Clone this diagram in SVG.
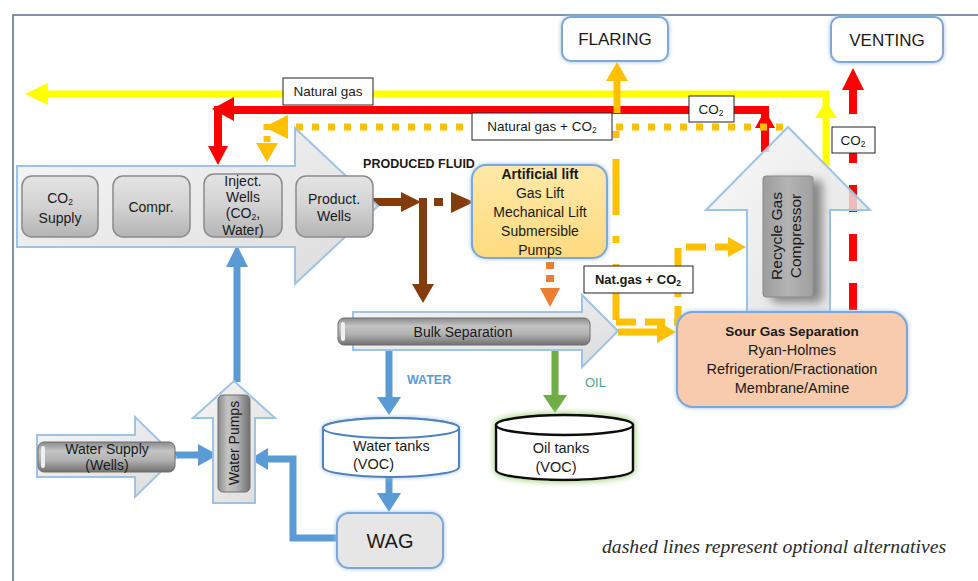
<svg xmlns="http://www.w3.org/2000/svg" width="978" height="581" viewBox="0 0 978 581">
<style>
text{font-family:"Liberation Sans",Arial,sans-serif;fill:#1a1a1a}
.t13{font-size:13.5px}
.t14{font-size:14px}
.t145{font-size:14.5px}
.c{text-anchor:middle}
.b{font-weight:bold}
.sub{font-size:8.5px}
.lbl{fill:#fff;stroke:#222;stroke-width:1}
.btn{fill:url(#gBtn);stroke:#8a8a8a;stroke-width:1.5}
.bigarrow{fill:url(#gArrow);stroke:#9DC3E6;stroke-width:2}
.rbox{stroke:#7EA6D8;stroke-width:2}
.y{stroke:#FFFF00;fill:none;stroke-width:7}
.r{stroke:#FF0000;fill:none;stroke-width:8}
.g{stroke:#FFC000;fill:none;stroke-width:7}
.br{stroke:#843C0C;fill:none;stroke-width:8}
.bl{stroke:#5B9BD5;fill:none;stroke-width:7}
.gr{stroke:#70AD47;fill:none;stroke-width:7}
</style>
<defs>
<linearGradient id="gBtn" x1="0" y1="0" x2="0" y2="1">
<stop offset="0" stop-color="#e4e4e4"/><stop offset="0.5" stop-color="#d2d2d2"/><stop offset="1" stop-color="#b4b4b4"/>
</linearGradient>
<linearGradient id="gArrow" x1="0" y1="0" x2="1" y2="1">
<stop offset="0" stop-color="#f7f7f7"/><stop offset="1" stop-color="#dcdcdc"/>
</linearGradient>
<linearGradient id="gBarH" x1="0" y1="0" x2="0" y2="1">
<stop offset="0" stop-color="#8a8a8a"/><stop offset="0.3" stop-color="#c4c4c4"/><stop offset="0.6" stop-color="#b2b2b2"/><stop offset="1" stop-color="#707070"/>
</linearGradient>
<linearGradient id="gBarV" x1="0" y1="0" x2="1" y2="0">
<stop offset="0" stop-color="#8a8a8a"/><stop offset="0.3" stop-color="#c4c4c4"/><stop offset="0.6" stop-color="#b2b2b2"/><stop offset="1" stop-color="#707070"/>
</linearGradient>
<linearGradient id="gComp" x1="0" y1="0" x2="1" y2="0">
<stop offset="0" stop-color="#9c9c9c"/><stop offset="0.5" stop-color="#b4b4b4"/><stop offset="1" stop-color="#a0a0a0"/>
</linearGradient>
<linearGradient id="gLift" x1="0" y1="0" x2="0" y2="1">
<stop offset="0" stop-color="#FFE9A8"/><stop offset="1" stop-color="#FFDA80"/>
</linearGradient>
<filter id="glow" x="-10%" y="-20%" width="120%" height="140%">
<feGaussianBlur in="SourceAlpha" stdDeviation="2" result="b"/>
<feFlood flood-color="#9DC3E6"/>
<feComposite in2="b" operator="in"/>
<feMerge><feMergeNode/><feMergeNode in="SourceGraphic"/></feMerge>
</filter>
<filter id="glowG" x="-10%" y="-20%" width="120%" height="140%">
<feGaussianBlur in="SourceAlpha" stdDeviation="3" result="b"/>
<feFlood flood-color="#B5DC98"/>
<feComposite in2="b" operator="in"/>
<feMerge><feMergeNode/><feMergeNode/><feMergeNode in="SourceGraphic"/></feMerge>
</filter>
<filter id="shadow" x="-30%" y="-10%" width="180%" height="130%">
<feDropShadow dx="9" dy="5" stdDeviation="5" flood-color="#444" flood-opacity="0.6"/>
</filter>
</defs>
<rect width="978" height="581" fill="#fff"/>
<path d="M13,581 V15 H978" fill="none" stroke="#4F7391" stroke-width="1.5"/>

<g id="connectors">
<path class="y" d="M826,166 V94 H44"/>
<polygon fill="#FFFF00" points="48,83 25,94 48,105"/>
<polygon fill="#FFFF00" points="815,118 826,101 837,118"/>
<path class="r" d="M765,152 V110 H218 V148"/>
<polygon fill="#FF0000" points="208,146 228,146 218,165"/>
<polygon fill="#FF0000" points="755,128 765,110 775,128"/>
<polygon fill="#FF0000" points="234,97 212,109 234,121"/>
<path class="g" d="M783,127 H290" stroke-dasharray="7 9"/>
<path class="g" d="M267,124 V143" stroke-dasharray="6 6"/>
<polygon fill="#FFC000" points="288,115 264,127 288,139"/>
<polygon fill="#FFC000" points="256,143 278,143 267,162"/>
<path class="g" d="M617,113 V78"/>
<polygon fill="#FFC000" points="606,81 628,81 617,62"/>
<path class="r" d="M853,310 V88" stroke-dasharray="27 22"/>
<polygon fill="#FF0000" points="842,90 864,90 853,68"/>
<path class="g" d="M616,320 V128" stroke-dasharray="56 21 7 21"/>
<path class="g" d="M616,322 H678 V247 H730" stroke-dasharray="20 9"/>
<polygon fill="#FFC000" points="728,237 746,247 728,257"/>
<path class="g" d="M618,332 H660"/>
<polygon fill="#FFC000" points="657,321 676,332 657,343"/>
<path class="br" d="M373,202 H404"/>
<polygon fill="#843C0C" points="401,192 421,202 401,212"/>
<path class="br" d="M423,198 V286"/>
<polygon fill="#843C0C" points="412,284 434,284 423,303"/>
<rect x="434" y="198" width="9" height="8" fill="#843C0C"/>
<polygon fill="#843C0C" points="451,192 474,202 451,213"/>
<rect x="546" y="262" width="8" height="7" fill="#ED7D31"/>
<rect x="546" y="275" width="8" height="7" fill="#ED7D31"/>
<polygon fill="#ED7D31" points="540,288 560,288 550,307"/>
<path class="bl" d="M389,345 V399"/>
<polygon fill="#5B9BD5" points="377,397 401,397 389,415"/>
<path class="bl" d="M389,477 V495"/>
<polygon fill="#5B9BD5" points="377,493 401,493 389,512"/>
<path class="bl" d="M337,538 H293 V459 H266"/>
<polygon fill="#5B9BD5" points="268,448 268,470 250,459"/>
<path class="bl" d="M175,455 H200"/>
<polygon fill="#5B9BD5" points="198,444 198,466 218,455"/>
<path class="bl" d="M237,382 V265"/>
<polygon fill="#5B9BD5" points="226,267 248,267 237,245"/>
<path class="gr" d="M555,345 V397"/>
<polygon fill="#70AD47" points="543,395 567,395 555,413"/>
</g>

<g id="wells-arrow">
<polygon class="bigarrow" points="17,166 295,166 295,128 378,206 295,284 295,247 17,247"/>
</g>
<g id="co2-supply">
<rect class="btn" x="22" y="176" width="76" height="61" rx="10"/>
<text class="t14 c" x="60" y="203">CO<tspan class="sub" dy="2">2</tspan></text>
<text class="t14 c" x="60" y="223">Supply</text>
</g>
<g id="compr">
<rect class="btn" x="113" y="176" width="77" height="61" rx="10"/>
<text class="t14 c" x="151" y="212">Compr.</text>
</g>
<g id="inject-wells">
<rect class="btn" x="204" y="174" width="78" height="63" rx="10"/>
<text class="t14 c" x="243" y="186">Inject.</text>
<text class="t14 c" x="243" y="202">Wells</text>
<text class="t14 c" x="243" y="218">(CO<tspan class="sub" dy="1.5">2</tspan><tspan dy="-1.5">,</tspan></text>
<text class="t14 c" x="243" y="235">Water)</text>
</g>
<g id="product-wells">
<rect class="btn" x="296" y="176" width="77" height="61" rx="10"/>
<text class="t14 c" x="334" y="204">Product.</text>
<text class="t14 c" x="334" y="221">Wells</text>
</g>
<text class="b c" x="419" y="168" font-size="12.5">PRODUCED FLUID</text>

<g id="artificial-lift">
<rect class="rbox" x="472" y="165" width="135" height="93" rx="14" fill="url(#gLift)" filter="url(#glow)"/>
<text class="t14 c b" x="540" y="179">Artificial lift</text>
<text class="t14 c" x="540" y="198">Gas Lift</text>
<text class="t14 c" x="540" y="217">Mechanical Lift</text>
<text class="t14 c" x="540" y="236">Submersible</text>
<text class="t14 c" x="540" y="255">Pumps</text>
</g>

<g id="bulk-separation">
<polygon class="bigarrow" points="353,312 582,312 582,295 618,331 582,367 582,350 353,350"/>
<rect x="338" y="318" width="252" height="27" rx="6" fill="url(#gBarH)" stroke="#6e6e6e" stroke-width="1"/>
<rect x="341" y="322" width="4" height="19" rx="2" fill="#f0f0f0"/>
<text class="t14 c" x="463" y="337">Bulk Separation</text>
</g>
<text class="b" x="407" y="384" font-size="12.5" style="fill:#5B9BD5">WATER</text>
<text x="585" y="387" font-size="13" style="fill:#4FA67E">OIL</text>

<g id="water-tanks">
<g filter="url(#glow)">
<path d="M323,428 A68,10 0 0,1 459,428 V467 A68,10 0 0,1 323,467 Z" fill="#fff" stroke="#4F81BD" stroke-width="2"/>
<ellipse cx="391" cy="428" rx="68" ry="10" fill="#fff" stroke="#4F81BD" stroke-width="2"/>
</g>
<text class="t145" x="353" y="451">Water tanks</text>
<text class="t145" x="353" y="469">(VOC)</text>
</g>

<g id="oil-tanks">
<g filter="url(#glowG)">
<path d="M496,425 A68.5,10 0 0,1 633,425 V470 A68.5,10 0 0,1 496,470 Z" fill="#fff" stroke="#111" stroke-width="2.5"/>
<ellipse cx="564.5" cy="425" rx="68.5" ry="10" fill="#fff" stroke="#111" stroke-width="2.5"/>
</g>
<text class="t145 c" x="561" y="453">Oil tanks</text>
<text class="t145 c" x="556" y="472">(VOC)</text>
</g>

<g id="wag">
<rect class="rbox" x="337" y="513" width="106" height="55" rx="12" fill="#E7E6E6" filter="url(#glow)"/>
<text class="c" x="390" y="548" font-size="20">WAG</text>
</g>

<g id="water-supply">
<polygon class="bigarrow" points="37,435 135,435 135,417 176,457 135,497 135,477 37,477"/>
<rect x="38" y="442" width="137" height="30" rx="6" fill="url(#gBarH)" stroke="#6e6e6e" stroke-width="1"/>
<rect x="41" y="446" width="4" height="22" rx="2" fill="#f0f0f0"/>
<text class="t14 c" x="107" y="454">Water Supply</text>
<text class="t14 c" x="107" y="470">(Wells)</text>
</g>

<g id="water-pumps">
<polygon class="bigarrow" points="213,503 213,418 193,418 234,381 275,418 255,418 255,503"/>
<rect x="218" y="395" width="32" height="97" rx="5" fill="url(#gBarV)" stroke="#6e6e6e" stroke-width="1"/>
<text class="t14 c" transform="translate(239,443) rotate(-90)">Water Pumps</text>
</g>

<g id="recycle-compressor">
<polygon class="bigarrow" points="747,313 747,210 706,210 788,127 870,210 830,210 830,313" fill-opacity="0.82"/>
<rect x="763" y="176" width="50" height="121" rx="3" fill="url(#gComp)" stroke="#888" stroke-width="1" filter="url(#shadow)"/>
<text class="c" font-size="15.5" transform="translate(782,236) rotate(-90)">Recycle Gas</text>
<text class="c" font-size="15.5" transform="translate(801,236) rotate(-90)">Compressor</text>
</g>

<g id="sour-gas">
<rect class="rbox" x="677" y="312" width="230" height="95" rx="16" fill="#F8CBAD" filter="url(#glow)"/>
<text class="c b" x="792" y="336" font-size="13.5">Sour Gas Separation</text>
<text class="t145 c" x="792" y="355">Ryan-Holmes</text>
<text class="t145 c" x="792" y="374">Refrigeration/Fractionation</text>
<text class="t145 c" x="792" y="393">Membrane/Amine</text>
</g>

<g id="flaring">
<rect class="rbox" x="562" y="17" width="106" height="44" rx="9" fill="#fff" filter="url(#glow)"/>
<text class="c" x="615" y="45" font-size="17">FLARING</text>
</g>
<g id="venting">
<rect class="rbox" x="831" y="17" width="112" height="45" rx="9" fill="#fff" filter="url(#glow)"/>
<text class="c" x="887" y="46" font-size="17">VENTING</text>
</g>

<g id="labels">
<rect class="lbl" x="283" y="78" width="90" height="27"/>
<text class="t13 c" x="328" y="96">Natural gas</text>
<rect class="lbl" x="472" y="113" width="140" height="27"/>
<text class="t13 c" x="542" y="131">Natural gas + CO<tspan class="sub" dy="2">2</tspan></text>
<rect class="lbl" x="689" y="96" width="45" height="26"/>
<text class="t13 c" x="711" y="114">CO<tspan class="sub" dy="2">2</tspan></text>
<rect class="lbl" x="832" y="127" width="43" height="26"/>
<text class="t13 c" x="853" y="145">CO<tspan class="sub" dy="2">2</tspan></text>
<rect class="lbl" x="584" y="266" width="109" height="27"/>
<text class="b c" x="638" y="284" font-size="13">Nat.gas + CO<tspan class="sub" dy="2">2</tspan></text>
</g>

<text x="602" y="553" font-size="19.7" font-style="italic" style="font-family:'Liberation Serif','Times New Roman',serif;fill:#2a2a2a">dashed lines represent optional alternatives</text>
</svg>
